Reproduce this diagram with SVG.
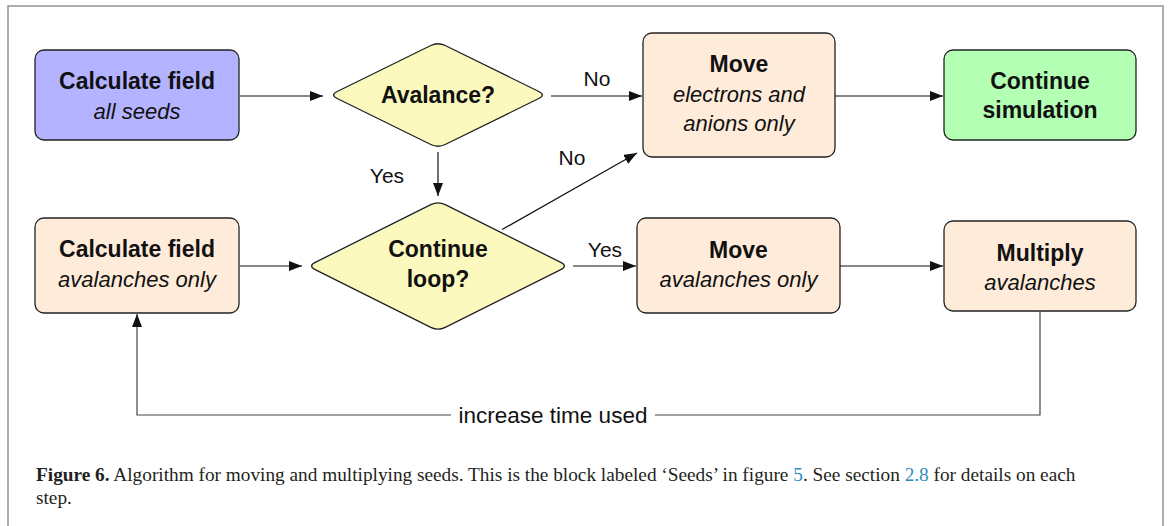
<svg xmlns="http://www.w3.org/2000/svg" width="1170" height="526" viewBox="0 0 1170 526">
<style>
.node{stroke:#222;stroke-width:1.3}
.blue{fill:#b3b3ff}
.peach{fill:#ffebd9}
.green{fill:#b3ffb3}
.yellow{fill:#fbf9be}
.b{font-family:"Liberation Sans",Arial,sans-serif;font-weight:bold;font-size:23px;fill:#111;text-anchor:middle}
.i{font-family:"Liberation Sans",Arial,sans-serif;font-style:italic;font-size:22px;fill:#111;text-anchor:middle}
.lbl{font-family:"Liberation Sans",Arial,sans-serif;font-size:21px;fill:#111;text-anchor:middle}
.con{fill:none;stroke:#111;stroke-width:1.2}
.cap{font-family:"Liberation Serif","Times New Roman",serif;font-size:19.3px;fill:#231f20}
.ref{fill:#2b8cc4}
</style>
<defs>
<marker id="ah" markerUnits="userSpaceOnUse" markerWidth="14" markerHeight="11" refX="13" refY="5" orient="auto">
<path d="M0,0 L13,5 L0,10 Z" fill="#111"/>
</marker>
</defs>
<rect x="0" y="0" width="1170" height="526" fill="#fff"/>
<rect x="8" y="6" width="1155" height="540" fill="none" stroke="#9a9a9a" stroke-width="1.6"/>

<g id="calc-all">
<rect class="node blue" x="35" y="50" width="204" height="90" rx="9"/>
<text class="b" x="137" y="89">Calculate field</text>
<text class="i" x="137" y="119">all seeds</text>
</g>
<g id="avalanche">
<path class="node yellow" d="M337.2,91.5 L430.8,45.5 Q438,42 445.2,45.5 L538.8,91.5 Q546,95 538.8,98.5 L445.2,144.5 Q438,148 430.8,144.5 L337.2,98.5 Q330,95 337.2,91.5 Z"/>
<text class="b" x="438" y="103">Avalance?</text>
</g>
<g id="move-electrons">
<rect class="node peach" x="643" y="33" width="192" height="124" rx="9"/>
<text class="b" x="739" y="72">Move</text>
<text class="i" x="739" y="102">electrons and</text>
<text class="i" x="739" y="131">anions only</text>
</g>
<g id="continue-sim">
<rect class="node green" x="944" y="50" width="192" height="90" rx="9"/>
<text class="b" x="1040" y="89">Continue</text>
<text class="b" x="1040" y="118">simulation</text>
</g>
<g id="calc-aval">
<rect class="node peach" x="35" y="218" width="204" height="95" rx="9"/>
<text class="b" x="137" y="257">Calculate field</text>
<text class="i" x="137" y="287">avalanches only</text>
</g>
<g id="continue-loop">
<path class="node yellow" d="M315.2,262.4 L430.8,204.6 Q438,201 445.2,204.6 L560.8,262.4 Q568,266 560.8,269.6 L445.2,327.4 Q438,331 430.8,327.4 L315.2,269.6 Q308,266 315.2,262.4 Z"/>
<text class="b" x="438" y="257">Continue</text>
<text class="b" x="438" y="287">loop?</text>
</g>
<g id="move-aval">
<rect class="node peach" x="637" y="218" width="203" height="95" rx="9"/>
<text class="b" x="738.5" y="258">Move</text>
<text class="i" x="738.5" y="287">avalanches only</text>
</g>
<g id="multiply">
<rect class="node peach" x="944" y="221" width="192" height="90" rx="9"/>
<text class="b" x="1040" y="261">Multiply</text>
<text class="i" x="1040" y="290">avalanches</text>
</g>

<g id="connectors">
<path class="con" d="M240,96 H323" marker-end="url(#ah)"/>
<path class="con" d="M551,96 H642" marker-end="url(#ah)"/>
<path class="con" d="M835,96 H943" marker-end="url(#ah)"/>
<path class="con" d="M438,152 V196" marker-end="url(#ah)"/>
<path class="con" d="M502,229.6 L637,152.9" marker-end="url(#ah)"/>
<path class="con" d="M240,266 H302" marker-end="url(#ah)"/>
<path class="con" d="M573,266 H636" marker-end="url(#ah)"/>
<path class="con" d="M840,266 H943" marker-end="url(#ah)"/>
<path class="con" d="M1040,311 V415 H655" style="stroke:#444"/>
<path class="con" d="M451,415 H137 V314" style="stroke:#444" marker-end="url(#ah)"/>
<text class="lbl" x="597" y="86">No</text>
<text class="lbl" x="387" y="183">Yes</text>
<text class="lbl" x="572" y="165">No</text>
<text class="lbl" x="605" y="257">Yes</text>
<text class="lbl" x="553" y="423" style="font-size:22.5px">increase time used</text>
</g>

<text class="cap" x="36" y="481"><tspan font-weight="bold">Figure 6.</tspan> Algorithm for moving and multiplying seeds. This is the block labeled ‘Seeds’ in figure <tspan class="ref">5</tspan>. See section <tspan class="ref">2.8</tspan> for details on each</text>
<text class="cap" x="36" y="504">step.</text>
</svg>
